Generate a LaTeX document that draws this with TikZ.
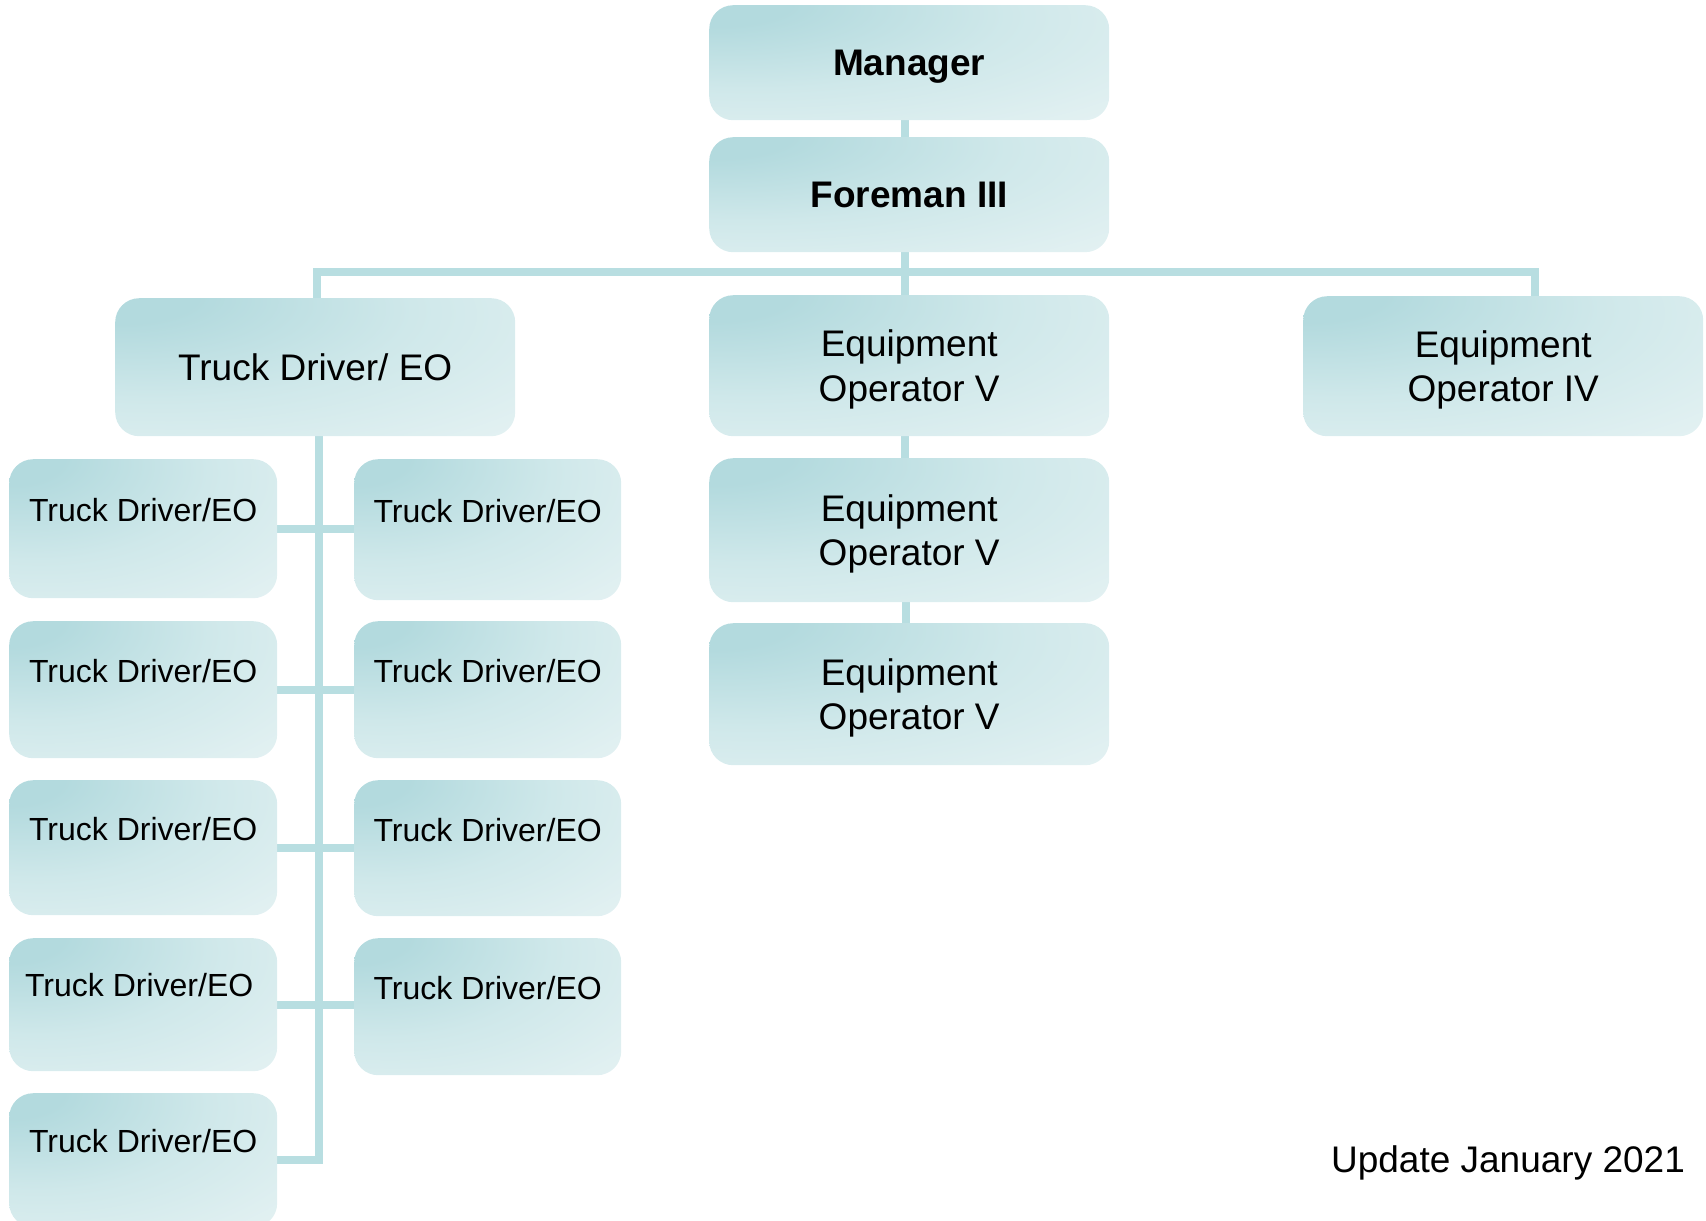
\documentclass[tikz,border=0pt]{standalone}
\usepackage{fontspec}
\setmainfont{Liberation Sans}
\usetikzlibrary{backgrounds,calc}
\definecolor{boxdark}{HTML}{B3DADE}
\definecolor{boxmid}{HTML}{CFE8EA}
\definecolor{boxlight}{HTML}{E5F2F3}
\definecolor{linec}{HTML}{B8DEE1}
\pgfdeclareradialshading{boxshade}{\pgfpoint{-27bp}{28bp}}{color(0bp)=(boxdark); color(10bp)=(boxdark); color(32bp)=(boxmid); color(58bp)=(boxlight); color(120bp)=(boxlight)}
\begin{document}
\begin{tikzpicture}[x=1pt,y=1pt,
  box/.style={rounded corners=24pt, inner sep=0pt, anchor=north west, align=center,
    shade, shading=boxshade},
  big/.style={font=\fontsize{37}{44.5}\selectfont, text depth=0pt},
  bigb/.style={font=\fontsize{37}{44.5}\selectfont\bfseries, text depth=0pt},
  small/.style={font=\fontsize{32}{38}\selectfont},
  conn/.style={draw=linec, line width=8pt},
]
\clip (0,0) rectangle (1706,-1221);
% main boxes
\node[box,bigb,minimum width=400pt,minimum height=115pt] (mgr) at (709,-5) {Manager};
\node[box,bigb,minimum width=400pt,minimum height=115pt] (fore) at (709,-137) {Foreman III};
\node[box,big,minimum width=400pt,minimum height=138pt] (tdm) at (115,-298) {Truck Driver/ EO};
\node[box,big,minimum width=400pt,minimum height=141pt] (eo1) at (709,-295) {Equipment\\Operator V};
\node[box,big,minimum width=400pt,minimum height=140pt] (eo4) at (1303,-296) {Equipment\\Operator IV};
\node[box,big,minimum width=400pt,minimum height=144pt] (eo2) at (709,-458) {Equipment\\Operator V};
\node[box,big,minimum width=400pt,minimum height=142pt] (eo3) at (709,-623) {Equipment\\Operator V};
% small boxes
\node[box,minimum width=268pt,minimum height=139pt] (L1) at (9,-459) {};
\node[box,minimum width=267pt,minimum height=141pt] (R1) at (354,-459) {};
\node[box,minimum width=268pt,minimum height=137pt] (L2) at (9,-621) {};
\node[box,minimum width=267pt,minimum height=137pt] (R2) at (354,-621) {};
\node[box,minimum width=268pt,minimum height=135pt] (L3) at (9,-780) {};
\node[box,minimum width=267pt,minimum height=136pt] (R3) at (354,-780) {};
\node[box,minimum width=268pt,minimum height=133pt] (L4) at (9,-938) {};
\node[box,minimum width=267pt,minimum height=137pt] (R4) at (354,-938) {};
\node[box,minimum width=268pt,minimum height=134pt] (L5) at (9,-1093) {};
% small box texts
\node[small] (tL1) at ($(L1.north)+(0,-51)$) {Truck Driver/EO};
\node[small] (tR1) at ($(R1.north)+(0,-52)$) {Truck Driver/EO};
\node[small] (tL2) at ($(L2.north)+(0,-50)$) {Truck Driver/EO};
\node[small] (tR2) at ($(R2.north)+(0,-50)$) {Truck Driver/EO};
\node[small] (tL3) at ($(L3.north)+(0,-49)$) {Truck Driver/EO};
\node[small] (tR3) at ($(R3.north)+(0,-50)$) {Truck Driver/EO};
\node[small] (tL4) at ($(L4.north)+(-4,-47)$) {Truck Driver/EO};
\node[small] (tR4) at ($(R4.north)+(0,-50)$) {Truck Driver/EO};
\node[small] (tL5) at ($(L5.north)+(0,-48)$) {Truck Driver/EO};
% footer
\node[big] (upd) at (1508,-1159) {Update January 2021};
% connectors
\coordinate (barR) at (1535,-272);
\coordinate (cx) at (905,0);
\coordinate (trk) at ($(tdm.south)+(4,0)$);
\begin{scope}[on background layer]
\draw[conn] (cx |- mgr.south) -- (cx |- fore.north);
\draw[conn] (cx |- fore.south) -- (cx |- eo1.north);
\draw[conn] ($(tdm.north)+(2,0)$) |- (barR) -- (barR |- eo4.north);
\draw[conn] (cx |- eo1.south) -- (cx |- eo2.north);
\draw[conn] ($(eo2.south)+(-3,0)$) -- ($(eo3.north)+(-3,0)$);
\draw[conn] (trk) -- (trk |- L5.east) -- (L5.east);
\draw[conn] (L1.east) -- (L1.east -| R1.west);
\draw[conn] (L2.east) -- (L2.east -| R2.west);
\draw[conn] (L3.east) -- (L3.east -| R3.west);
\draw[conn] (L4.east) -- (L4.east -| R4.west);
\end{scope}
\end{tikzpicture}
\end{document}
